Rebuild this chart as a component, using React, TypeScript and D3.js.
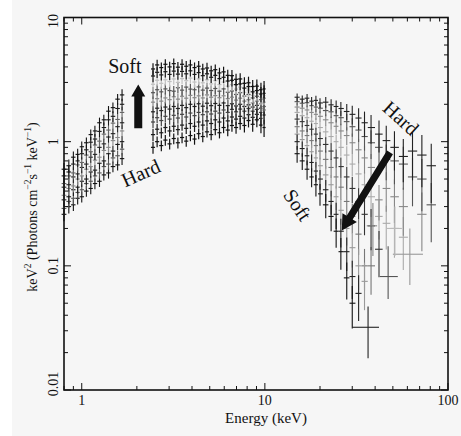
import React from 'react';
import * as d3 from 'd3';

const W = 461;
const H = 436;

// axis domains and ticks
const xDomain = [0.8, 100];
const yDomain = [0.01, 10];
const xTickLabels = ['1', '10', '100'];
const xTickValues = [1, 10, 100];
const yTickLabels = ['0.01', '0.1', '1', '10'];
const yTickValues = [0.01, 0.1, 1, 10];

// ---------- low energy band (keV) ----------
const lowE = [0.80, 0.85, 0.90, 0.95, 1.00, 1.06, 1.12, 1.18, 1.25, 1.32, 1.40, 1.48, 1.57, 1.66];
const lowErr = [0.12, 0.12, 0.11, 0.11, 0.10, 0.10, 0.10, 0.10, 0.10, 0.10, 0.10, 0.10, 0.10, 0.11];
const low1 = [0.60, 0.64, 0.75, 0.79, 0.91, 0.98, 1.14, 1.22, 1.42, 1.50, 1.76, 1.88, 2.20, 2.38];
const low2 = [0.53, 0.57, 0.66, 0.70, 0.80, 0.86, 0.99, 1.05, 1.21, 1.30, 1.50, 1.60, 1.85, 2.00];
const low3 = [0.46, 0.53, 0.56, 0.65, 0.68, 0.78, 0.83, 0.94, 1.01, 1.15, 1.24, 1.41, 1.51, 1.72];
const low4 = [0.43, 0.45, 0.52, 0.55, 0.62, 0.66, 0.75, 0.79, 0.90, 0.96, 1.09, 1.16, 1.32, 1.42];
const low5 = [0.37, 0.42, 0.44, 0.50, 0.53, 0.60, 0.63, 0.71, 0.75, 0.85, 0.90, 1.02, 1.08, 1.22];
const low6 = [0.34, 0.36, 0.41, 0.43, 0.48, 0.50, 0.57, 0.59, 0.67, 0.70, 0.80, 0.84, 0.95, 1.00];
const low7 = [0.29, 0.33, 0.35, 0.39, 0.41, 0.46, 0.48, 0.53, 0.56, 0.63, 0.66, 0.74, 0.77, 0.87];
const low8 = [0.26, 0.30, 0.31, 0.35, 0.36, 0.40, 0.42, 0.46, 0.48, 0.54, 0.56, 0.63, 0.65, 0.73];
const lowColors = ['#111', '#1a1a1a', '#666', '#222', '#888', '#1a1a1a', '#555', '#111'];

// ---------- mid energy band (keV) ----------
const midE = [2.45, 2.58, 2.72, 2.86, 3.02, 3.18, 3.35, 3.53, 3.72, 3.92, 4.13, 4.35, 4.58, 4.83,
  5.09, 5.36, 5.65, 5.95, 6.27, 6.61, 6.96, 7.33, 7.73, 8.14, 8.58, 9.04, 9.52, 9.90];
const midErr = [0.11, 0.10, 0.10, 0.10, 0.10, 0.10, 0.10, 0.10, 0.10, 0.10, 0.10, 0.10, 0.10, 0.10,
  0.10, 0.10, 0.10, 0.10, 0.11, 0.11, 0.11, 0.11, 0.12, 0.12, 0.13, 0.13, 0.14, 0.16];
const mid1 = [3.85, 4.15, 3.95, 4.20, 4.00, 4.25, 3.98, 4.20, 4.05, 4.15, 3.95, 4.05, 3.85, 3.92,
  3.72, 3.80, 3.58, 3.65, 3.42, 3.40, 3.18, 3.20, 2.95, 2.98, 2.78, 2.80, 2.62, 2.66];
const mid2 = [3.38, 3.62, 3.45, 3.66, 3.48, 3.70, 3.50, 3.68, 3.52, 3.72, 3.48, 3.60, 3.40, 3.52,
  3.30, 3.42, 3.22, 3.30, 3.08, 3.12, 2.88, 2.92, 2.70, 2.78, 2.52, 2.58, 2.42, 2.45];
const mid3 = [2.90, 3.12, 2.95, 3.15, 3.05, 3.20, 3.00, 3.22, 3.10, 3.25, 3.02, 3.20, 2.98, 3.15,
  2.92, 3.10, 2.88, 3.02, 2.80, 2.88, 2.65, 2.75, 2.50, 2.60, 2.36, 2.45, 2.28, 2.35];
const mid4 = [2.48, 2.62, 2.52, 2.66, 2.58, 2.55, 2.72, 2.60, 2.75, 2.65, 2.62, 2.76, 2.60, 2.70,
  2.58, 2.68, 2.55, 2.66, 2.50, 2.56, 2.40, 2.48, 2.33, 2.40, 2.25, 2.32, 2.18, 2.24];
const mid5 = [2.08, 2.22, 2.12, 2.25, 2.18, 2.30, 2.20, 2.32, 2.24, 2.36, 2.26, 2.34, 2.25, 2.38,
  2.28, 2.35, 2.26, 2.34, 2.22, 2.28, 2.16, 2.24, 2.12, 2.18, 2.05, 2.12, 2.02, 2.08];
const mid6 = [1.74, 1.86, 1.78, 1.90, 1.83, 1.92, 1.85, 1.96, 1.88, 2.00, 1.92, 2.02, 1.93, 2.04,
  1.95, 2.03, 1.96, 2.05, 1.95, 2.02, 1.94, 2.00, 1.92, 1.98, 1.90, 1.96, 1.86, 1.92];
const mid7 = [1.44, 1.56, 1.48, 1.60, 1.52, 1.63, 1.55, 1.66, 1.58, 1.70, 1.62, 1.72, 1.65, 1.74,
  1.67, 1.76, 1.70, 1.80, 1.72, 1.82, 1.74, 1.83, 1.76, 1.85, 1.76, 1.82, 1.72, 1.80];
const mid8 = [1.14, 1.26, 1.18, 1.30, 1.22, 1.33, 1.25, 1.36, 1.28, 1.40, 1.33, 1.44, 1.36, 1.47,
  1.40, 1.50, 1.44, 1.55, 1.47, 1.58, 1.52, 1.60, 1.55, 1.65, 1.57, 1.66, 1.54, 1.64];
const mid9 = [0.90, 1.00, 0.93, 1.03, 0.96, 1.06, 0.98, 1.08, 1.01, 1.12, 1.05, 1.16, 1.10, 1.20,
  1.14, 1.25, 1.18, 1.30, 1.24, 1.35, 1.30, 1.40, 1.35, 1.48, 1.38, 1.50, 1.36, 1.30];
const midColors = ['#111', '#1a1a1a', '#c0c0c0', '#555', '#888', '#222', '#444', '#1a1a1a', '#111'];

// ---------- high energy band (keV) ----------
const highE = [15, 16, 17, 18, 19, 20, 21.5, 23, 24.5, 26, 28, 30, 32.5, 35, 38, 42, 46, 51, 57, 64, 72, 81];
const highErr = [0.07, 0.07, 0.08, 0.08, 0.09, 0.09, 0.10, 0.11, 0.12, 0.13, 0.15, 0.17, 0.20, 0.23,
  0.26, 0.29, 0.32, 0.35, 0.38, 0.42, 0.45, 0.50];
const high1 = [2.28, 2.20, 2.24, 2.12, 2.15, 2.05, 2.08, 1.98, 1.92, 1.85, 1.75, 1.66, 1.55, 1.42,
  1.30, 1.15, 1.02, 0.90, 0.76, 0.84, 0.78, 0.64];
const high2 = [2.10, 2.04, 2.06, 1.95, 1.90, 1.86, 1.78, 1.74, 1.62, 1.56, 1.45, 1.32, 1.24, 1.10,
  0.98, 0.90, 0.72, 0.70, 0.66, 0.52, 0.50, 0.31];
const high3 = [1.90, 1.86, 1.80, 1.72, 1.66, 1.60, 1.50, 1.42, 1.33, 1.22, 1.12, 0.98, 0.86, 0.74,
  0.62, 0.34, 0.42, 0.36, 0.30, null, 0.26, null];
const high4 = [1.72, 1.62, 1.56, 1.46, 1.40, 1.30, 1.20, 1.10, 1.00, 0.90, 0.78, 0.66, 0.55, 0.45,
  0.36, 0.25, 0.22, 0.20, 0.17, null, null, null];
const high5 = [1.52, 1.45, 1.35, 1.26, 1.15, 1.06, 0.95, 0.84, 0.74, 0.63, 0.52, 0.42, 0.33, 0.26,
  0.21, 0.136, null, null, null, null, null, null];
const high6 = [1.32, 1.22, 1.12, 1.02, 0.93, 0.84, 0.72, 0.62, 0.52, 0.43, 0.33, 0.25, 0.18, 0.10,
  0.10, null, null, null, null, null, null, null];
const high7 = [1.15, 1.04, 0.93, 0.83, 0.74, 0.64, 0.54, 0.45, 0.36, 0.28, 0.20, 0.14, 0.10, 0.075,
  null, null, null, null, null, null, null, null];
const high8 = [1.00, 0.88, 0.77, 0.68, 0.58, 0.50, 0.41, 0.33, 0.26, 0.19, 0.13, 0.082, 0.06, null,
  null, null, null, null, null, null, null, null];
const high9 = [0.80, 0.70, 0.60, 0.52, 0.45, 0.38, 0.31, 0.25, 0.19, 0.13, 0.08, 0.05, null, null,
  null, null, null, null, null, null, null, null];
const highErrScale = [1, 1, 1.1, 1.2, 1.4, 1.6, 1.8, 2.0, 2.2];
const highColors = ['#222', '#555', '#888', '#aaa', '#333', '#777', '#999', '#222', '#111'];

// scattered faint high-energy bins (wide bins)
const extraE = [36.6, 61.9, 47.1, 51.3, 38.9];
const extraELo = [30, 50, 42.4, 46, 36];
const extraEHi = [42, 73, 53.2, 56, 41];
const extraV = [0.032, 0.124, 0.082, 0.2, 0.21];
const extraVLo = [0.018, 0.07, 0.054, 0.12, 0.12];
const extraVHi = [0.047, 0.2, 0.144, 0.3, 0.32];
const extraColors = ['#222', '#999', '#555', '#bbb', '#888'];

// ---------- annotations (data coordinates) ----------
const upArrow = { e: 2.035, from: 1.28, to: 2.89 };
const diagArrow = { e1: 48.2, v1: 0.82, e2: 26.3, v2: 0.193 };
const annLabels = [
  { text: 'Soft', e: 1.72, v: 3.55, rot: 0 },
  { text: 'Hard', e: 2.1, v: 0.56, rot: -24 },
  { text: 'Hard', e: 55.4, v: 1.55, rot: 42 },
  { text: 'Soft', e: 15.1, v: 0.31, rot: 56 },
];

const FONT = "'Liberation Serif', 'Times New Roman', serif";

const x = d3.scaleLog().domain(xDomain).range([64, 448]);
const y = d3.scaleLog().domain(yDomain).range([390, 17.5]);

function edges(es: number[]) {
  const lo: number[] = [];
  const hi: number[] = [];
  for (let i = 0; i < es.length; i++) {
    const prev = i > 0 ? Math.sqrt(es[i - 1] * es[i]) : es[i] * es[i] / Math.sqrt(es[i] * es[i + 1]);
    const next = i < es.length - 1 ? Math.sqrt(es[i] * es[i + 1]) : es[i] * es[i] / Math.sqrt(es[i - 1] * es[i]);
    lo.push(prev);
    hi.push(next);
  }
  return { lo, hi };
}

function Band({ es, series, errs, colors, scales, sw }: any) {
  const { lo, hi } = edges(es);
  const out: any[] = [];
  series.forEach((vals: (number | null)[], s: number) => {
    const col = colors[s];
    const k = scales ? scales[s] : 1;
    vals.forEach((v, i) => {
      if (v == null) return;
      const r = Math.min(errs[i] * k, 0.8);
      const yc = y(v);
      out.push(
        <g key={`${s}-${i}`} stroke={col} strokeWidth={sw || 1.1}>
          <line x1={x(lo[i])} x2={x(hi[i])} y1={yc} y2={yc} />
          <line x1={x(es[i])} x2={x(es[i])} y1={y(v * (1 + r))} y2={y(v * (1 - r))} />
        </g>
      );
    });
  });
  return <g>{out}</g>;
}

function arrowPath(x1: number, y1: number, x2: number, y2: number, sw: number, hw: number, hl: number) {
  const dx = x2 - x1, dy = y2 - y1;
  const len = Math.sqrt(dx * dx + dy * dy);
  const ux = dx / len, uy = dy / len;
  const px = -uy, py = ux;
  const bx = x2 - ux * hl, by = y2 - uy * hl;
  const pts = [
    [x1 + px * sw / 2, y1 + py * sw / 2],
    [bx + px * sw / 2, by + py * sw / 2],
    [bx + px * hw / 2, by + py * hw / 2],
    [x2, y2],
    [bx - px * hw / 2, by - py * hw / 2],
    [bx - px * sw / 2, by - py * sw / 2],
    [x1 - px * sw / 2, y1 - py * sw / 2],
  ];
  return 'M' + pts.map(p => p.join(',')).join('L') + 'Z';
}

export default function App() {
  const [x0, x1] = x.range();
  const [y0, y1] = y.range();
  const xt = x.ticks();
  const yt = y.ticks();
  const isMajor = (v: number) => Math.abs(Math.log10(v) - Math.round(Math.log10(v))) < 1e-6;

  return (
    <svg width={W} height={H} style={{ position: 'absolute', left: 0, top: 0 }} fontFamily={FONT}>
      <rect x={0} y={0} width={W} height={H} fill="#f6f6f6" />
      <rect x={0} y={0} width={12} height={H} fill="#ffffff" />

      {/* data */}
      <Band es={lowE} series={[low8, low7, low6, low5, low4, low3, low2, low1]}
        errs={lowErr} colors={[...lowColors].reverse()} />
      <Band es={midE} series={[mid9, mid8, mid7, mid6, mid5, mid4, mid3, mid2, mid1]}
        errs={midErr} colors={[...midColors].reverse()} sw={1.2} />
      <Band es={highE} series={[high4, high3, high2, high6, high7, high5, high1, high8, high9]}
        errs={highErr}
        colors={[highColors[3], highColors[2], highColors[1], highColors[5], highColors[6], highColors[4], highColors[0], highColors[7], highColors[8]]}
        scales={[highErrScale[3], highErrScale[2], highErrScale[1], highErrScale[5], highErrScale[6], highErrScale[4], highErrScale[0], highErrScale[7], highErrScale[8]]} />
      <g>
        {extraE.map((e, i) => (
          <g key={i} stroke={extraColors[i]} strokeWidth={1.1}>
            <line x1={x(extraELo[i])} x2={x(extraEHi[i])} y1={y(extraV[i])} y2={y(extraV[i])} />
            <line x1={x(e)} x2={x(e)} y1={y(extraVHi[i])} y2={y(extraVLo[i])} />
          </g>
        ))}
      </g>

      {/* annotations */}
      <path d={arrowPath(x(upArrow.e), y(upArrow.from), x(upArrow.e), y(upArrow.to), 8, 14, 12)} fill="#111" />
      <path d={arrowPath(x(diagArrow.e1), y(diagArrow.v1), x(diagArrow.e2), y(diagArrow.v2), 7, 17, 15)} fill="#111" />
      {annLabels.map((l, i) => (
        <text key={i} fontSize={20} textAnchor="middle"
          dominantBaseline={l.rot === 0 ? 'auto' : 'central'}
          transform={`translate(${x(l.e)},${y(l.v)}) rotate(${l.rot})`} fill="#111">{l.text}</text>
      ))}

      {/* ticks */}
      <g stroke="#111" strokeWidth={1}>
        {xt.map((t, i) => {
          const L = isMajor(t) ? 7 : 4;
          const px = x(t);
          return (
            <g key={i}>
              <line x1={px} x2={px} y1={y0} y2={y0 - L} />
              <line x1={px} x2={px} y1={y1} y2={y1 + L} />
            </g>
          );
        })}
        {yt.map((t, i) => {
          const L = isMajor(t) ? 7 : 4;
          const py = y(t);
          return (
            <g key={i}>
              <line x1={x0} x2={x0 + L} y1={py} y2={py} />
              <line x1={x1} x2={x1 - L} y1={py} y2={py} />
            </g>
          );
        })}
      </g>
      <rect x={x0} y={y1} width={x1 - x0} height={y0 - y1} fill="none" stroke="#111" strokeWidth={1.6} />

      {/* tick labels */}
      {xTickValues.map((t, i) => (
        <text key={i} x={x(t)} y={405} fontSize={14} textAnchor="middle" fill="#111">{xTickLabels[i]}</text>
      ))}
      {yTickValues.map((t, i) => {
        const py = Math.min(Math.max(y(t), 21), 384);
        return (
          <text key={i} fontSize={14} textAnchor="middle" fill="#111"
            transform={`translate(58,${py}) rotate(-90)`}>{yTickLabels[i]}</text>
        );
      })}

      {/* axis titles */}
      <text x={(x0 + x1) / 2 + 10} y={423} fontSize={15} textAnchor="middle" fill="#111">Energy (keV)</text>
      <text fontSize={14} textAnchor="middle" fill="#111" transform={`translate(37,207) rotate(-90)`}>
        keV<tspan dy={-6} fontSize={9.5}>2</tspan>
        <tspan dy={6}> (Photons cm</tspan>
        <tspan dy={-6} fontSize={9.5}>−2</tspan>
        <tspan dy={6}>s</tspan>
        <tspan dy={-6} fontSize={9.5}>−1</tspan>
        <tspan dy={6}> keV</tspan>
        <tspan dy={-6} fontSize={9.5}>−1</tspan>
        <tspan dy={6}>)</tspan>
      </text>
    </svg>
  );
}
